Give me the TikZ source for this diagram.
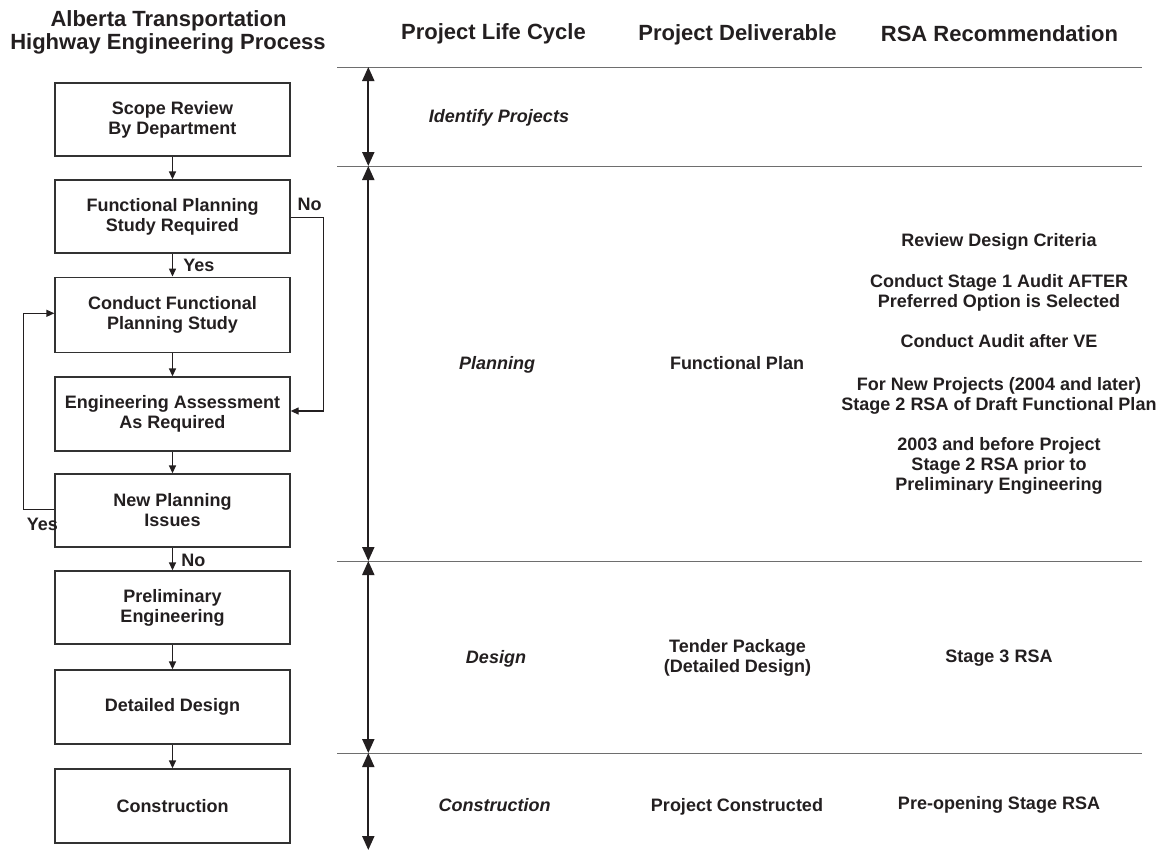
\documentclass[tikz,border=0pt]{standalone}
\usepackage{fontspec}
\setmainfont{Liberation Sans}
\usetikzlibrary{arrows.meta}
\definecolor{ink}{RGB}{35,31,32}
\definecolor{boxc}{RGB}{50,50,50}
\definecolor{rulec}{RGB}{110,110,110}
\begin{document}
\begin{tikzpicture}[x=1pt,y=-1pt,
  txt/.style={font=\bfseries\fontsize{18}{20}\selectfont, text=ink, inner sep=0pt},
  ttl/.style={font=\bfseries\fontsize{22}{24}\selectfont, text=ink, inner sep=0pt, anchor=base},
  lab/.style={txt, anchor=base},
  itl/.style={txt, font=\bfseries\itshape\fontsize{18}{20}\selectfont, anchor=base},
  rsa/.style={txt, align=center},
  procbox/.style={txt, draw=boxc, line width=1.3pt, minimum width=235pt, minimum height=73pt, align=center},
  flow/.style={draw=ink, line width=1.3pt, -{Triangle[width=7pt,length=8pt]}},
  phase/.style={draw=ink, line width=2pt, {Triangle[width=12pt,length=14pt]}-{Triangle[width=12pt,length=14pt]}},
  sep/.style={draw=rulec, line width=1pt}]
\fill[white] (0,0) rectangle (1165,852);
\useasboundingbox (0,0) rectangle (1165,852);

% titles
\node[ttl] (t1) at (168.5,26) {Alberta Transportation};
\node[ttl] (t2) at (168,49) {Highway Engineering Process};
\node[ttl] (h1) at (493.5,39) {Project Life Cycle};
\node[ttl] (h2) at (737.5,40) {Project Deliverable};
\node[ttl] (h3) at (999.5,41) {RSA Recommendation};

% process boxes
\node[procbox] (b1) at (172.5,119.5) {Scope Review\\By Department};
\node[procbox] (b2) at (172.5,216.5) {Functional Planning\\Study Required};
\node[procbox, minimum height=75pt] (b3) at (172.5,314.7) {Conduct Functional\\Planning Study};
\node[procbox, minimum height=74pt] (b4) at (172.5,414) {Engineering Assessment\\As Required};
\node[procbox] (b5) at (172.5,510.5) {New Planning\\Issues};
\node[procbox] (b6) at (172.5,607.5) {Preliminary\\Engineering};
\node[procbox, minimum height=74pt] (b7) at (172.5,707) {Detailed Design};
\node[procbox, minimum height=74pt] (b8) at (172.5,806) {Construction};

% flow connectors
\draw[flow] (b1.south) -- (b2.north);
\draw[flow] (b2.south) -- (b3.north);
\draw[flow] (b3.south) -- (b4.north);
\draw[flow] (b4.south) -- (b5.north);
\draw[flow] (b5.south) -- (b6.north);
\draw[flow] (b6.south) -- (b7.north);
\draw[flow] (b7.south) -- (b8.north);
\draw[flow] ([yshift=-0.8pt]b2.east) -- ++(33,0) |- ([yshift=3pt]b4.east);
\draw[flow] ([yshift=1.2pt]b5.west) -- ++(-31,0) |- ([yshift=1.4pt]b3.west);

% yes / no labels
\node[lab] (lno1) at (309.7,210.7) {No};
\node[lab] (lyes1) at (198.8,271) {Yes};
\node[lab] (lyes2) at (42.3,530.7) {Yes};
\node[lab] (lno2) at (193.3,566.7) {No};

% phase rules and arrows
\coordinate (L0) at (337,67);  \coordinate (R0) at (1142,67);
\coordinate (L1) at (337,166); \coordinate (R1) at (1142,166);
\coordinate (L2) at (337,561); \coordinate (R2) at (1142,561);
\coordinate (L3) at (337,753); \coordinate (R3) at (1142,753);
\coordinate (A0) at (368.3,67);
\coordinate (A1) at (368.3,166);
\coordinate (A2) at (368.3,561);
\coordinate (A3) at (368.3,753);
\coordinate (A4) at (368.3,850);
\draw[sep] (L0) -- (R0);
\draw[sep] (L1) -- (R1);
\draw[sep] (L2) -- (R2);
\draw[sep] (L3) -- (R3);
\draw[phase] (A0) -- (A1);
\draw[phase] (A1) -- (A2);
\draw[phase] (A2) -- (A3);
\draw[phase] (A3) -- (A4);

% life cycle
\node[itl] (p1) at (499,122) {Identify Projects};
\node[itl] (p2) at (497,369) {Planning};
\node[itl] (p3) at (496,663) {Design};
\node[itl] (p4) at (494.5,811) {Construction};

% deliverables
\node[lab] (d2) at (737,369) {Functional Plan};
\node[rsa] (d3) at (737.5,657.4) {Tender Package\\(Detailed Design)};
\node[lab] (d4) at (737,811) {Project Constructed};

% RSA recommendations
\node[lab] (r1) at (999,246) {Review Design Criteria};
\node[rsa] (r2) at (999,292.4) {Conduct Stage 1 Audit AFTER\\Preferred Option is Selected};
\node[lab] (r3) at (999,347) {Conduct Audit after VE};
\node[rsa] (r4) at (999,395.4) {For New Projects (2004 and later)\\Stage 2 RSA of Draft Functional Plan};
\node[rsa] (r5) at (999,465.9) {2003 and before Project\\Stage 2 RSA prior to\\Preliminary Engineering};
\node[lab] (r6) at (999,662) {Stage 3 RSA};
\node[lab] (r7) at (999,809) {Pre-opening Stage RSA};
\end{tikzpicture}
\end{document}
